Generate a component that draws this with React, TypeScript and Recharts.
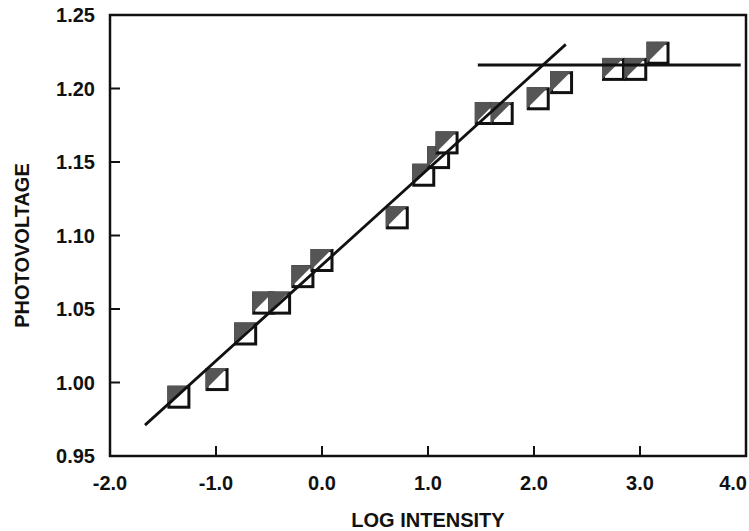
import React from 'react';
import { ScatterChart, Scatter, XAxis, YAxis, ReferenceArea, Label } from 'recharts';

const logIntensity = [-1.35, -0.99, -0.72, -0.55, -0.4, -0.18, 0.0, 0.71, 0.96, 1.1, 1.18, 1.55, 1.7, 2.04, 2.26, 2.75, 2.96, 3.17];
const photovoltage = [0.99, 1.002, 1.033, 1.054, 1.054, 1.072, 1.083, 1.112, 1.141, 1.153, 1.163, 1.183, 1.183, 1.193, 1.204, 1.213, 1.213, 1.224];

const fitX = [-1.67, 2.3];
const fitY = [0.971, 1.23];
const plateauX = [1.47, 3.95];
const plateauY = [1.216, 1.216];

const xTicks = [-2, -1, 0, 1, 2, 3, 4];
const yTicks = [0.95, 1.0, 1.05, 1.1, 1.15, 1.2, 1.25];

const points = logIntensity.map((x, i) => ({ x, y: photovoltage[i] }));
const fitLine = fitX.map((x, i) => ({ x, y: fitY[i] }));
const plateauLine = plateauX.map((x, i) => ({ x, y: plateauY[i] }));

const INK = '#111';
const FONT = '"Liberation Sans", Arial, Helvetica, sans-serif';

// half-shaded square like the original plot symbols
const Marker = (props: any) => {
  const { cx, cy } = props;
  const s = 20;
  const x0 = cx - s / 2;
  const y0 = cy - s / 2;
  return (
    <g>
      <rect x={x0} y={y0} width={s} height={s} fill="#fff" stroke={INK} strokeWidth={3} />
      <polygon points={`${x0 - 1.5},${y0 - 1.5} ${x0 + s},${y0 - 1.5} ${x0 - 1.5},${y0 + s}`} fill="#555" />
    </g>
  );
};

const YTick = (props: any) => {
  const { x, y, payload } = props;
  const v = payload.value;
  const inner = v > 0.96 && v < 1.24;
  return (
    <g>
      {inner && <line x1={x + 15} x2={x + 25} y1={y} y2={y} stroke={INK} strokeWidth={2} />}
      <text x={x} y={y} dy={7} textAnchor="end" fontSize={20} fontWeight="bold" fill={INK} fontFamily={FONT}>
        {v.toFixed(2)}
      </text>
    </g>
  );
};

const XTick = (props: any) => {
  const { x, y, payload } = props;
  const v = payload.value;
  const inner = v > -1.9 && v < 3.9;
  const last = v > 3.9;
  return (
    <g>
      {inner && <line x1={x} x2={x} y1={y - 20} y2={y - 30} stroke={INK} strokeWidth={2} />}
      <text
        x={last ? x + 1 : x}
        y={y}
        dy={14}
        textAnchor={last ? 'end' : 'middle'}
        fontSize={20}
        fontWeight="bold"
        fill={INK}
        fontFamily={FONT}
      >
        {v.toFixed(1)}
      </text>
    </g>
  );
};

const App: React.FC = () => {
  return (
    <div style={{ position: 'absolute', left: 0, top: 0, width: 749, height: 531, background: '#fff' }}>
      <ScatterChart width={749} height={531} margin={{ top: 15, right: 3, bottom: 30, left: 0 }}>
        <XAxis
          type="number"
          dataKey="x"
          domain={[-2, 4]}
          ticks={xTicks}
          allowDataOverflow
          axisLine={false}
          tickLine={false}
          tickSize={0}
          tickMargin={20}
          height={45}
          tick={<XTick />}
          interval={0}
        >
          <Label
            content={(p: any) => {
              const vb = p.viewBox;
              return (
                <text x={vb.x + vb.width / 2} y={vb.y + 71} textAnchor="middle" fontSize={20} fontWeight="bold" fill={INK} fontFamily={FONT}>
                  LOG INTENSITY
                </text>
              );
            }}
          />
        </XAxis>
        <YAxis
          type="number"
          dataKey="y"
          domain={[0.95, 1.25]}
          ticks={yTicks}
          allowDataOverflow
          axisLine={false}
          tickLine={false}
          tickSize={0}
          tickMargin={15}
          width={110}
          tick={<YTick />}
          interval={0}
        >
          <Label
            content={(p: any) => {
              const vb = p.viewBox;
              const cx = vb.x + 29;
              const cy = vb.y + vb.height / 2 + 10;
              return (
                <text x={cx} y={cy} transform={`rotate(-90, ${cx}, ${cy})`} textAnchor="middle" fontSize={20} fontWeight="bold" fill={INK} fontFamily={FONT}>
                  PHOTOVOLTAGE
                </text>
              );
            }}
          />
        </YAxis>
        <ReferenceArea x1={-2} x2={4} y1={0.95} y2={1.25} fill="none" stroke={INK} strokeWidth={2.5} />
        <Scatter data={points} shape={<Marker />} isAnimationActive={false} />
        <Scatter data={fitLine} line={{ stroke: INK, strokeWidth: 2.8 }} shape={() => <g />} isAnimationActive={false} />
        <Scatter data={plateauLine} line={{ stroke: INK, strokeWidth: 2.8 }} shape={() => <g />} isAnimationActive={false} />
      </ScatterChart>
    </div>
  );
};

export default App;
